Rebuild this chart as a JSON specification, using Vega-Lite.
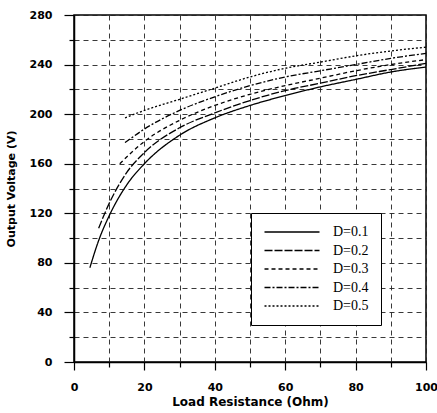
{
  "$schema": "https://vega.github.io/schema/vega-lite/v6.json",
  "width": 352,
  "height": 347,
  "autosize": "none",
  "padding": {"left": 74, "top": 15, "right": 11, "bottom": 51},
  "background": "white",
  "config": {
    "view": {"stroke": "black", "strokeWidth": 1.5},
    "axis": {
      "domainColor": "black",
      "domainWidth": 1.5,
      "tickColor": "black",
      "tickWidth": 1.2,
      "gridColor": "#222",
      "gridDash": [5, 4],
      "gridWidth": 0.9,
      "labelFont": "DejaVu Sans",
      "labelFontWeight": "bold",
      "labelFontSize": 11,
      "labelColor": "black",
      "titleFont": "DejaVu Sans",
      "titleFontWeight": "bold",
      "titleColor": "black"
    }
  },
  "data": {
    "values": [
      {"D": "D=0.1", "R": 4.5, "V": 76},
      {"D": "D=0.1", "R": 7, "V": 98},
      {"D": "D=0.1", "R": 10, "V": 118},
      {"D": "D=0.1", "R": 15, "V": 143},
      {"D": "D=0.1", "R": 20, "V": 160},
      {"D": "D=0.1", "R": 30, "V": 183},
      {"D": "D=0.1", "R": 40, "V": 197},
      {"D": "D=0.1", "R": 50, "V": 207},
      {"D": "D=0.1", "R": 60, "V": 215},
      {"D": "D=0.1", "R": 70, "V": 222},
      {"D": "D=0.1", "R": 80, "V": 228},
      {"D": "D=0.1", "R": 90, "V": 234},
      {"D": "D=0.1", "R": 100, "V": 238},
      {"D": "D=0.2", "R": 7, "V": 108},
      {"D": "D=0.2", "R": 10, "V": 128},
      {"D": "D=0.2", "R": 15, "V": 153},
      {"D": "D=0.2", "R": 20, "V": 169},
      {"D": "D=0.2", "R": 30, "V": 189},
      {"D": "D=0.2", "R": 40, "V": 201},
      {"D": "D=0.2", "R": 50, "V": 211},
      {"D": "D=0.2", "R": 60, "V": 219},
      {"D": "D=0.2", "R": 70, "V": 225},
      {"D": "D=0.2", "R": 80, "V": 231},
      {"D": "D=0.2", "R": 90, "V": 236},
      {"D": "D=0.2", "R": 100, "V": 241},
      {"D": "D=0.3", "R": 13, "V": 160},
      {"D": "D=0.3", "R": 20, "V": 178},
      {"D": "D=0.3", "R": 30, "V": 195},
      {"D": "D=0.3", "R": 40, "V": 207},
      {"D": "D=0.3", "R": 50, "V": 216},
      {"D": "D=0.3", "R": 60, "V": 223},
      {"D": "D=0.3", "R": 70, "V": 229},
      {"D": "D=0.3", "R": 80, "V": 235},
      {"D": "D=0.3", "R": 90, "V": 240},
      {"D": "D=0.3", "R": 100, "V": 244},
      {"D": "D=0.4", "R": 14.5, "V": 177},
      {"D": "D=0.4", "R": 20, "V": 188},
      {"D": "D=0.4", "R": 30, "V": 203},
      {"D": "D=0.4", "R": 40, "V": 214},
      {"D": "D=0.4", "R": 50, "V": 223},
      {"D": "D=0.4", "R": 60, "V": 230},
      {"D": "D=0.4", "R": 70, "V": 235},
      {"D": "D=0.4", "R": 80, "V": 240},
      {"D": "D=0.4", "R": 90, "V": 245},
      {"D": "D=0.4", "R": 100, "V": 249},
      {"D": "D=0.5", "R": 14.5, "V": 197},
      {"D": "D=0.5", "R": 20, "V": 203},
      {"D": "D=0.5", "R": 30, "V": 212},
      {"D": "D=0.5", "R": 40, "V": 221},
      {"D": "D=0.5", "R": 50, "V": 230},
      {"D": "D=0.5", "R": 60, "V": 237},
      {"D": "D=0.5", "R": 70, "V": 242},
      {"D": "D=0.5", "R": 80, "V": 247},
      {"D": "D=0.5", "R": 90, "V": 251},
      {"D": "D=0.5", "R": 100, "V": 254}
    ]
  },
  "mark": {"type": "line", "color": "black", "strokeWidth": 1.3, "interpolate": "monotone"},
  "encoding": {
    "x": {
      "field": "R",
      "type": "quantitative",
      "scale": {"domain": [0, 100], "nice": false, "zero": false},
      "axis": {
        "title": "Load Resistance (Ohm)",
        "titleFontSize": 12,
        "titlePadding": 4,
        "values": [0, 10, 20, 30, 40, 50, 60, 70, 80, 90, 100],
        "labelExpr": "datum.value % 20 == 0 ? datum.label : ''",
        "tickSize": {"condition": {"test": "datum.value % 20 == 0", "value": 8}, "value": 5},
        "labelPadding": 11,
        "labelFlush": false
      }
    },
    "y": {
      "field": "V",
      "type": "quantitative",
      "scale": {"domain": [0, 280], "nice": false},
      "axis": {
        "title": "Output Voltage (V)",
        "titleFontSize": 11,
        "titlePadding": 13,
        "values": [0, 20, 40, 60, 80, 100, 120, 140, 160, 180, 200, 220, 240, 260, 280],
        "labelExpr": "datum.value % 40 == 0 ? datum.label : ''",
        "tickSize": {"condition": {"test": "datum.value % 40 == 0", "value": 10}, "value": 5},
        "labelPadding": 12,
        "labelFlush": false
      }
    },
    "strokeDash": {
      "field": "D",
      "type": "nominal",
      "scale": {"domain": ["D=0.1", "D=0.2", "D=0.3", "D=0.4", "D=0.5"], "range": [[1, 0], [8, 2], [4, 3], [6, 2, 2, 2], [2, 2]]},
      "legend": {
        "title": null,
        "orient": "none",
        "legendX": 177,
        "legendY": 198,
        "fillColor": "white",
        "strokeColor": "black",
        "padding": 12,
        "symbolType": "M-1,0H9",
        "symbolSize": 121,
        "symbolStrokeColor": "black",
        "symbolStrokeWidth": 1.3,
        "labelFont": "Liberation Serif",
        "labelFontSize": 14,
        "labelColor": "black",
        "rowPadding": 4.5,
        "labelOffset": 56
      }
    }
  }
}
